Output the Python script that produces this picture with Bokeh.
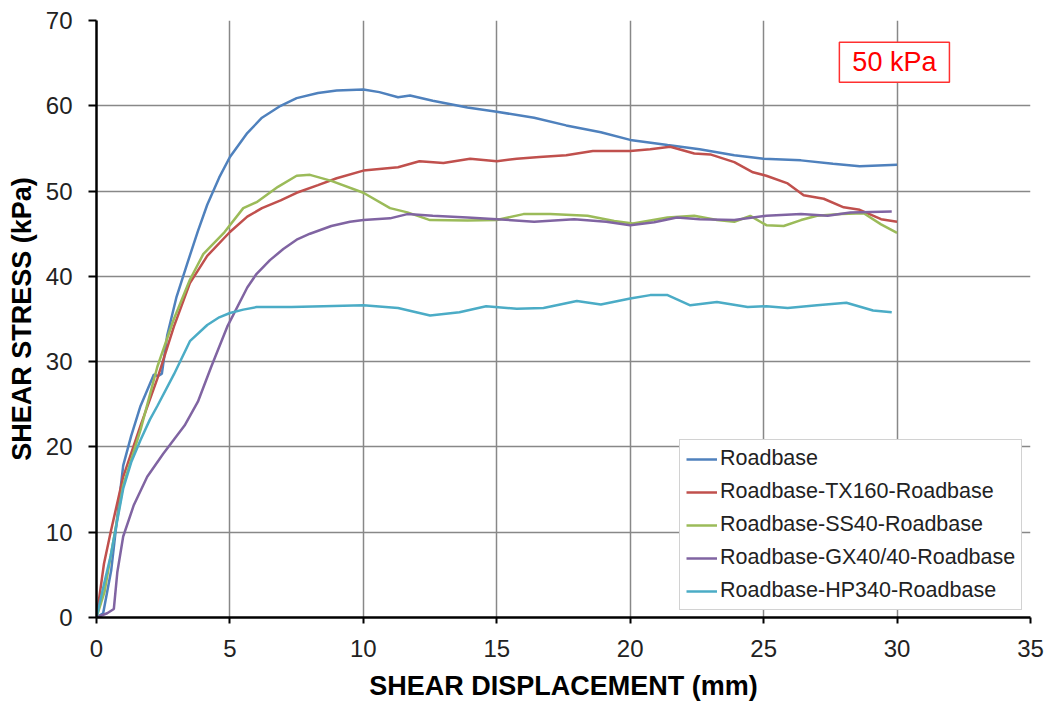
from bokeh.plotting import figure
from bokeh.models import Range1d, Legend, LegendItem, Label, FixedTicker
from bokeh.embed import file_html
from bokeh.resources import INLINE

# ---- data ----
x_ticks = [0, 5, 10, 15, 20, 25, 30, 35]
y_ticks = [0, 10, 20, 30, 40, 50, 60, 70]

roadbase_x = [0, 0.25, 0.55, 0.75, 1.0, 1.3, 1.65, 2.15, 2.3, 2.45, 2.65, 3.0, 3.4, 3.8, 4.15, 4.6, 5.0,
              5.65, 6.2, 6.9, 7.5, 8.3, 9.0, 10.0, 10.6, 11.3, 11.75, 12.6, 13.9, 15.0, 16.4, 17.6,
              18.9, 20.0, 21.4, 22.6, 23.9, 25.0, 26.4, 27.6, 28.6, 30.0]
roadbase_y = [0, 0.5, 5.5, 11.0, 17.8, 21.3, 24.8, 28.5, 28.3, 28.6, 33.1, 37.6, 41.5, 45.3, 48.4, 51.6, 54.0,
              56.8, 58.6, 60.0, 60.9, 61.5, 61.8, 61.9, 61.6, 61.0, 61.2, 60.6, 59.8, 59.3, 58.6, 57.7,
              56.9, 56.0, 55.4, 54.9, 54.2, 53.8, 53.6, 53.2, 52.9, 53.1]

tx160_x = [0, 0.28, 0.53, 1.0, 1.65, 2.28, 2.9, 3.5, 4.15, 5.0, 5.65, 6.2, 6.9, 7.5, 8.3, 9.0, 10.0, 11.3,
           12.1, 13.0, 14.0, 15.0, 15.75, 16.6, 17.6, 18.6, 20.0, 20.75, 21.5, 22.4, 23.0, 23.9, 24.6,
           25.1, 25.9, 26.5, 27.25, 28.0, 28.6, 29.4, 30.0]
tx160_y = [0, 6.3, 10.0, 16.5, 22.5, 28.0, 34.1, 39.2, 42.4, 45.2, 47.0, 48.0, 48.9, 49.8, 50.7, 51.5, 52.4,
           52.8, 53.5, 53.3, 53.8, 53.5, 53.8, 54.0, 54.2, 54.7, 54.7, 54.9, 55.2, 54.4, 54.3, 53.4,
           52.2, 51.8, 50.9, 49.5, 49.1, 48.1, 47.8, 46.7, 46.4]

ss40_x = [0, 0.3, 0.53, 1.0, 1.65, 2.28, 2.9, 3.5, 4.0, 4.8, 5.5, 6.0, 6.8, 7.5, 8.0, 8.8, 10.0, 11.0,
          11.65, 12.5, 13.9, 15.0, 16.0, 17.0, 18.4, 19.4, 20.1, 21.4, 22.4, 23.25, 23.9, 24.5, 25.1,
          25.75, 26.4, 27.0, 27.9, 28.75, 29.4, 30.0]
ss40_y = [0, 3.0, 7.2, 15.5, 22.0, 29.4, 35.0, 39.6, 42.6, 45.2, 48.0, 48.7, 50.5, 51.8, 51.9, 51.2, 49.8, 48.0,
          47.5, 46.6, 46.55, 46.6, 47.3, 47.3, 47.1, 46.5, 46.2, 46.9, 47.1, 46.6, 46.4, 47.1, 46.0,
          45.9, 46.6, 47.1, 47.3, 47.4, 46.1, 45.1]

gx40_x = [0, 0.4, 0.65, 0.78, 1.0, 1.4, 1.9, 2.5, 3.3, 3.8, 4.3, 4.9, 5.65, 6.0, 6.5, 7.0, 7.5, 8.0, 8.8,
          9.5, 10.0, 11.0, 11.65, 12.6, 13.9, 15.0, 16.4, 17.9, 19.1, 20.0, 20.9, 21.75, 22.6, 23.9,
          25.1, 26.4, 27.4, 28.25, 29.8]
gx40_y = [0, 0.5, 1.0, 5.3, 9.5, 13.2, 16.5, 19.2, 22.5, 25.3, 29.4, 34.1, 38.7, 40.3, 41.9, 43.2, 44.3, 45.0,
          45.9, 46.4, 46.6, 46.8, 47.3, 47.1, 46.9, 46.7, 46.4, 46.7, 46.4, 46.0, 46.35, 46.9, 46.7,
          46.6, 47.1, 47.3, 47.1, 47.5, 47.6]

hp340_x = [0, 0.28, 0.53, 1.0, 1.3, 1.65, 2.0, 2.28, 2.9, 3.5, 4.15, 4.6, 5.0, 5.5, 6.0, 7.3, 8.5, 10.0,
           11.3, 12.5, 13.6, 14.6, 15.75, 16.75, 18.0, 18.9, 20.0, 20.75, 21.4, 22.25, 23.25, 24.4,
           25.1, 25.9, 27.0, 28.1, 29.1, 29.8]
hp340_y = [0, 3.9, 7.2, 15.1, 18.2, 20.8, 23.2, 24.8, 28.5, 32.4, 34.3, 35.2, 35.7, 36.1, 36.4, 36.4, 36.5,
           36.6, 36.3, 35.4, 35.8, 36.5, 36.2, 36.3, 37.1, 36.7, 37.4, 37.8, 37.8, 36.6, 37.0, 36.4,
           36.5, 36.3, 36.6, 36.9, 36.0, 35.8]

series_names = ["Roadbase", "Roadbase-TX160-Roadbase", "Roadbase-SS40-Roadbase",
                "Roadbase-GX40/40-Roadbase", "Roadbase-HP340-Roadbase"]
series_x = [roadbase_x, tx160_x, ss40_x, gx40_x, hp340_x]
series_y = [roadbase_y, tx160_y, ss40_y, gx40_y, hp340_y]
colors = ["#4F81BD", "#C0504D", "#9BBB59", "#8064A2", "#4BACC6"]

FONT = "Liberation Sans"

p = figure(width=1054, height=708, output_backend="svg", toolbar_location=None,
           x_range=Range1d(0, 35), y_range=Range1d(0, 70),
           min_border_left=96, min_border_right=24, min_border_top=20, min_border_bottom=91)
p.outline_line_color = None
p.background_fill_color = "white"

for ax, ticks in ((p.xaxis[0], x_ticks), (p.yaxis[0], y_ticks)):
    ax.ticker = FixedTicker(ticks=ticks)
    ax.axis_line_color = "black"
    ax.axis_line_width = 2.5
    ax.major_tick_line_color = "black"
    ax.major_tick_line_width = 2
    ax.major_tick_in = 0
    ax.minor_tick_line_color = None
    ax.major_label_text_font = FONT
    ax.major_label_text_font_size = "24px"
    ax.major_label_text_color = "#222222"
    ax.axis_label_text_font = FONT
    ax.axis_label_text_font_size = "27px"
    ax.axis_label_text_font_style = "bold"
    ax.axis_label_text_color = "black"

p.xaxis.axis_label = "SHEAR DISPLACEMENT (mm)"
p.yaxis.axis_label = "SHEAR STRESS (kPa)"
p.xaxis.major_tick_out = 6
p.yaxis.major_tick_out = 8
p.xaxis.major_label_standoff = 16
p.yaxis.major_label_standoff = 16
p.xaxis.axis_label_standoff = 11
p.yaxis.axis_label_standoff = 6

p.xgrid.ticker = FixedTicker(ticks=x_ticks)
p.ygrid.ticker = FixedTicker(ticks=y_ticks)
for g in (p.xgrid[0], p.ygrid[0]):
    g.grid_line_color = "#888888"
    g.grid_line_width = 1.5

items = []
for name, xs, ys, c in zip(series_names, series_x, series_y, colors):
    r = p.line(xs, ys, line_color=c, line_width=2.5)
    items.append(LegendItem(label=name, renderers=[r]))

legend = Legend(items=items, location=(583, 7))
legend.label_text_font = FONT
legend.label_text_font_size = "21.5px"
legend.label_text_color = "#222222"
legend.glyph_width = 31
legend.glyph_height = 24
legend.label_height = 24
legend.label_standoff = 3
legend.spacing = 8
legend.padding = 6
legend.margin = 0
legend.border_line_color = "#a6a6a6"
legend.border_line_width = 1.5
legend.background_fill_color = "white"
legend.background_fill_alpha = 1.0
p.add_layout(legend, "center")

label = Label(x=29.9, y=65.1, text="50 kPa", text_align="center", text_baseline="middle",
              text_font=FONT, text_font_size="27px", text_color="#FF0000",
              border_line_color="#FF3030", border_line_width=1.5,
              background_fill_color="white", padding=(13, 5))
p.add_layout(label)

open("out.html", "w").write(file_html(p, INLINE))
